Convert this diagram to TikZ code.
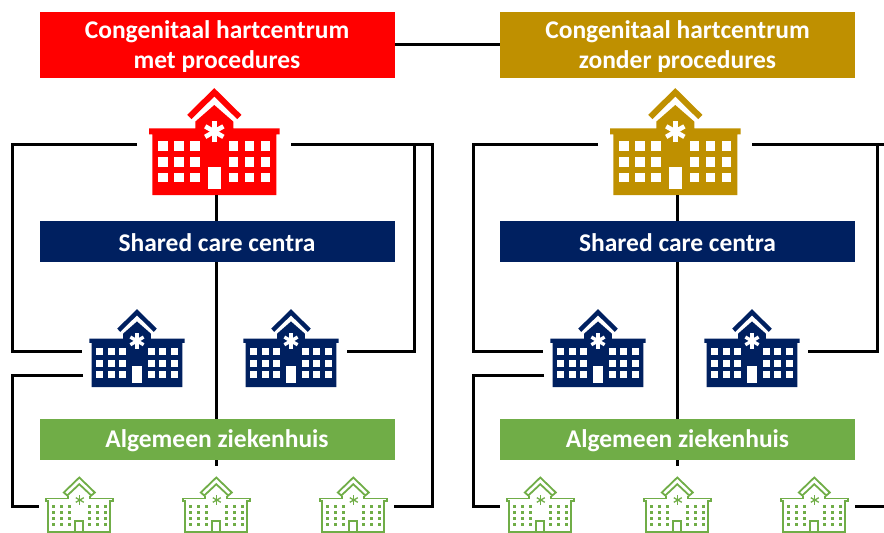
\documentclass[tikz,border=0pt]{standalone}
\usepackage{fontspec}
\setmainfont{Carlito}
\definecolor{hred}{HTML}{FF0000}
\definecolor{holive}{HTML}{BF9000}
\definecolor{hnavy}{HTML}{002060}
\definecolor{hgreen}{HTML}{70AD47}
\newcommand{\solidicon}[4]{%
\begin{scope}[shift={(#2,#3)},scale=#4]
 \draw[#1,line width=#4*6pt,miter limit=10] (-25,28.7) -- (0,4) -- (25,28.7);
 \fill[#1] (0,16.7) -- (19,33.3) -- (19,40) -- (65.3,40) -- (65.3,46) -- (62,46) -- (62,106.7) -- (-62,106.7) -- (-62,46) -- (-65.3,46) -- (-65.3,40) -- (-19,40) -- (-19,33.3) -- cycle;
 \foreach \wx in {-51.3,-35.3,-19.3,19.3,35.3,51.3}
  \foreach \wy in {57.7,73.7,89.3}
   \fill[white] (\wx-4.7,\wy-4.7) rectangle (\wx+4.7,\wy+4.7);
 \fill[white] (-6.3,78.3) rectangle (6.3,100.3);
 \foreach \ang in {90,30,150}
  \draw[white,line width=#4*4.6pt] (0,43.3) ++(\ang:10.5) -- ++(\ang+180:21);
\end{scope}}
\newcommand{\lineicon}[2]{%
\begin{scope}[shift={(#1,#2)},hgreen,line width=1.8pt]
 \draw[miter limit=10] (-15.5,15) -- (0,0) -- (15.5,15) -- (12,18) -- (0,6.7) -- (-12,18) -- cycle;
 \draw (-11,18) -- (-11,21) -- (-33.5,21) -- (-33.5,23.5) -- (-31,23.5) -- (-31,54.5) -- (31,54.5) -- (31,23.5) -- (33.5,23.5) -- (33.5,21) -- (11,21) -- (11,18);
 \draw (-4,54.5) -- (-4,43.5) -- (4,43.5) -- (4,54.5);
 \foreach \wx in {-26,-18,-10,10,18,26}
  \foreach \wy in {29,35,41,47}
   \fill (\wx-1.7,\wy-1.7) rectangle (\wx+1.7,\wy+1.7);
 \foreach \ang in {90,30,150}
  \draw[line width=1.3pt] (0.5,22.5) ++(\ang:4.6) -- ++(\ang+180:9.2);
\end{scope}}
\tikzset{
 titlebox/.style={minimum width=355.5pt,minimum height=66pt,inner sep=0pt,outer sep=0pt,text=white},
 titletext/.style={inner sep=0pt,outer sep=0pt,text=white,align=center,font=\fontsize{25.5}{30}\selectfont\bfseries},
 bandbox/.style={minimum width=355.5pt,minimum height=41pt,inner sep=0pt,outer sep=0pt},
 bandtext/.style={inner sep=0pt,outer sep=0pt,text=white,font=\fontsize{25.5}{30}\selectfont\bfseries},
 wire/.style={draw=black,line width=3pt,miter limit=10}
}
\begin{document}
\begin{tikzpicture}[x=1pt,y=-1pt]
\useasboundingbox (0,0) rectangle (884,533);
% boxes
\node[titlebox,fill=hred] (tA) at (217.25,45) {};
\node[titlebox,fill=holive] (tB) at (677.5,45) {};
\node[bandbox,fill=hnavy] (sA) at (217.25,241.5) {};
\node[bandbox,fill=hnavy] (sB) at (677.5,241.5) {};
\node[bandbox,fill=hgreen] (gA) at (217.25,439.5) {};
\node[bandbox,fill=hgreen] (gB) at (677.5,439.5) {};
\node[titletext] (ttA) at (217,47) {Congenitaal hartcentrum\\met procedures};
\node[titletext] (ttB) at (677.5,47) {Congenitaal hartcentrum\\zonder procedures};
\node[bandtext] (stA) at (217,243) {Shared care centra};
\node[bandtext] (stB) at (677.5,243) {Shared care centra};
\node[bandtext] (gtA) at (217,441) {Algemeen ziekenhuis};
\node[bandtext] (gtB) at (677.5,441) {Algemeen ziekenhuis};
% icons
\solidicon{hred}{214.3}{88.3}{1}
\solidicon{holive}{675.3}{88.3}{1}
\solidicon{hnavy}{137}{309.3}{0.73}
\solidicon{hnavy}{291}{309.3}{0.73}
\solidicon{hnavy}{598}{309.3}{0.73}
\solidicon{hnavy}{752}{309.3}{0.73}
\foreach \gx in {79.3,216.3,353.3,540.3,677.3,814.3} {\lineicon{\gx}{477.5}}
% connector ends
\coordinate (aL) at (137,144);
\coordinate (aR) at (291,144);
\coordinate (aB) at (216.5,195);
\coordinate (n1) at (82,351.5);
\coordinate (n1b) at (83,375);
\coordinate (n2) at (347,351.5);
\coordinate (g1) at (39,506.5);
\coordinate (g3) at (393.5,506.5);
\coordinate (bL) at (598,144);
\coordinate (bR) at (752,144);
\coordinate (bB) at (677,195);
\coordinate (m1) at (543,351.5);
\coordinate (m1b) at (544,375);
\coordinate (m2) at (808,351.5);
\coordinate (h1) at (500,506.5);
\coordinate (h3) at (855,506.5);
\coordinate (eT) at (886,144);
\coordinate (eB) at (886,506.5);
% connectors
\draw[wire] (tA.east |- 0,44.5) -- (tB.west |- 0,44.5);
\draw[wire] (aL) -| (12.5,351.5) -- (n1);
\draw[wire] (n1b) -| (12.5,506.5) -- (g1);
\draw[wire] (aR) -| (432.5,506.5) -- (g3);
\draw[wire] (414.5,144) |- (n2);
\draw[wire] (aB) -- (aB |- sA.north);
\draw[wire] (aB |- sA.south) -- (aB |- gA.north);
\draw[wire] (aB |- gA.south) -- (216.5,466);
\draw[wire] (bL) -| (473.5,351.5) -- (m1);
\draw[wire] (m1b) -| (473.5,506.5) -- (h1);
\draw[wire] (bR) -- (eT);
\draw[wire] (877,144) |- (m2);
\draw[wire] (h3) -- (eB);
\draw[wire] (bB) -- (bB |- sB.north);
\draw[wire] (bB |- sB.south) -- (bB |- gB.north);
\draw[wire] (bB |- gB.south) -- (677,466);
\end{tikzpicture}
\end{document}
